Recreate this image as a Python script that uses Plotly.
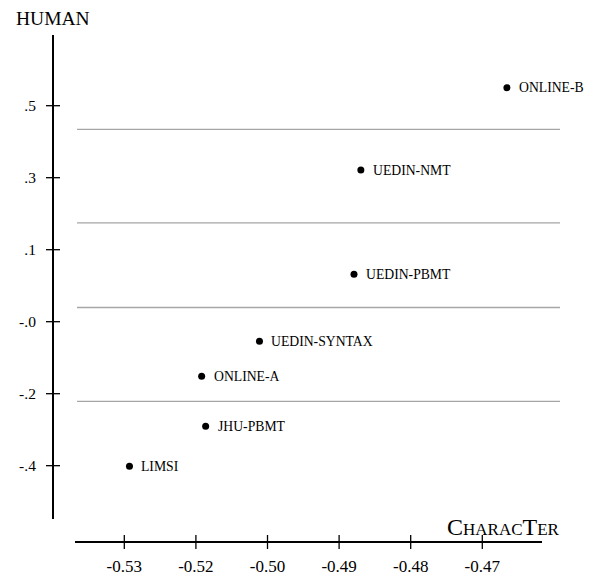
import plotly.graph_objects as go

# Systems: CharacTer score (x) vs. human score (y)
systems = ["ONLINE-B", "UEDIN-NMT", "UEDIN-PBMT", "UEDIN-SYNTAX", "ONLINE-A", "JHU-PBMT", "LIMSI"]
character = [-0.4632, -0.4887, -0.4899, -0.5064, -0.5165, -0.5158, -0.5291]
human = [0.545, 0.339, 0.0788, -0.0889, -0.1764, -0.3015, -0.4017]

# Boundaries between significance clusters
cluster_bounds = [0.441, 0.2072, -0.0045, -0.239]

x_tickvals = [-0.53, -0.5175, -0.505, -0.4925, -0.48, -0.4675]
x_ticktext = ["-0.53", "-0.52", "-0.50", "-0.49", "-0.48", "-0.47"]
y_tickvals = [0.5, 0.32, 0.14, -0.04, -0.22, -0.40]
y_ticktext = [".5", ".3", ".1", "-.0", "-.2", "-.4"]

x_range = [-0.538607, -0.457077]
y_range = [-0.53325, 0.67675]

SERIF = "Liberation Serif"
W, H = 592, 579
M = dict(l=53, r=50, t=35, b=37)
plot_w = W - M["l"] - M["r"]
plot_h = H - M["t"] - M["b"]
TICK = 7  # half-length of the crossing tick marks, px

fig = go.Figure()

fig.add_trace(go.Scatter(
    x=character, y=human, mode="markers",
    marker=dict(color="black", size=7),
    cliponaxis=False, showlegend=False, hoverinfo="skip",
))

for yb in cluster_bounds:
    fig.add_shape(type="line", xref="paper", yref="y",
                  x0=0.0491, x1=1.0368, y0=yb, y1=yb,
                  line=dict(color="#a6a6a6", width=1.3), layer="below")

# tick marks crossing the axis lines
for v in x_tickvals:
    fig.add_shape(type="line", xref="x", yref="paper", x0=v, x1=v,
                  y0=-TICK / plot_h, y1=TICK / plot_h,
                  line=dict(color="black", width=1.3), layer="above")
for v in y_tickvals:
    fig.add_shape(type="line", xref="paper", yref="y", y0=v, y1=v,
                  x0=-TICK / plot_w, x1=TICK / plot_w,
                  line=dict(color="black", width=1.3), layer="above")

annotations = [
    dict(text=name, x=xv, y=yv, xref="x", yref="y", xanchor="left",
         yanchor="middle", xshift=10, showarrow=False,
         font=dict(family=SERIF, size=13.7, color="black"))
    for name, xv, yv in zip(systems, character, human)
]
annotations += [
    dict(text="HUMAN", xref="paper", yref="paper", x=0.001, y=1.032,
         xanchor="center", yanchor="middle", showarrow=False,
         font=dict(family=SERIF, size=19.5, color="black")),
    dict(text="CharacTer", xref="paper", yref="paper", x=1.040, y=0.030,
         xanchor="right", yanchor="middle", showarrow=False,
         font=dict(family=SERIF, size=24, color="black", variant="small-caps")),
]

axis_common = dict(showgrid=False, zeroline=False, anchor="free", position=0,
                   automargin=False, ticks="")

fig.update_layout(
    width=W, height=H,
    margin=dict(**M, autoexpand=False),
    paper_bgcolor="white", plot_bgcolor="white",
    xaxis=dict(domain=[0.045, 1], range=x_range,
               tickvals=x_tickvals, ticktext=x_ticktext,
               showline=True, linecolor="black", linewidth=2,
               tickfont=dict(family=SERIF, size=17, color="black"),
               ticklabelstandoff=9,
               **axis_common),
    yaxis=dict(domain=[0.0454, 1], range=y_range,
               tickvals=y_tickvals, ticktext=y_ticktext,
               showline=True, linecolor="black", linewidth=2,
               tickfont=dict(family=SERIF, size=15.5, color="black"),
               ticklabelstandoff=13,
               **axis_common),
    annotations=annotations,
)

fig.write_html("out.html")
